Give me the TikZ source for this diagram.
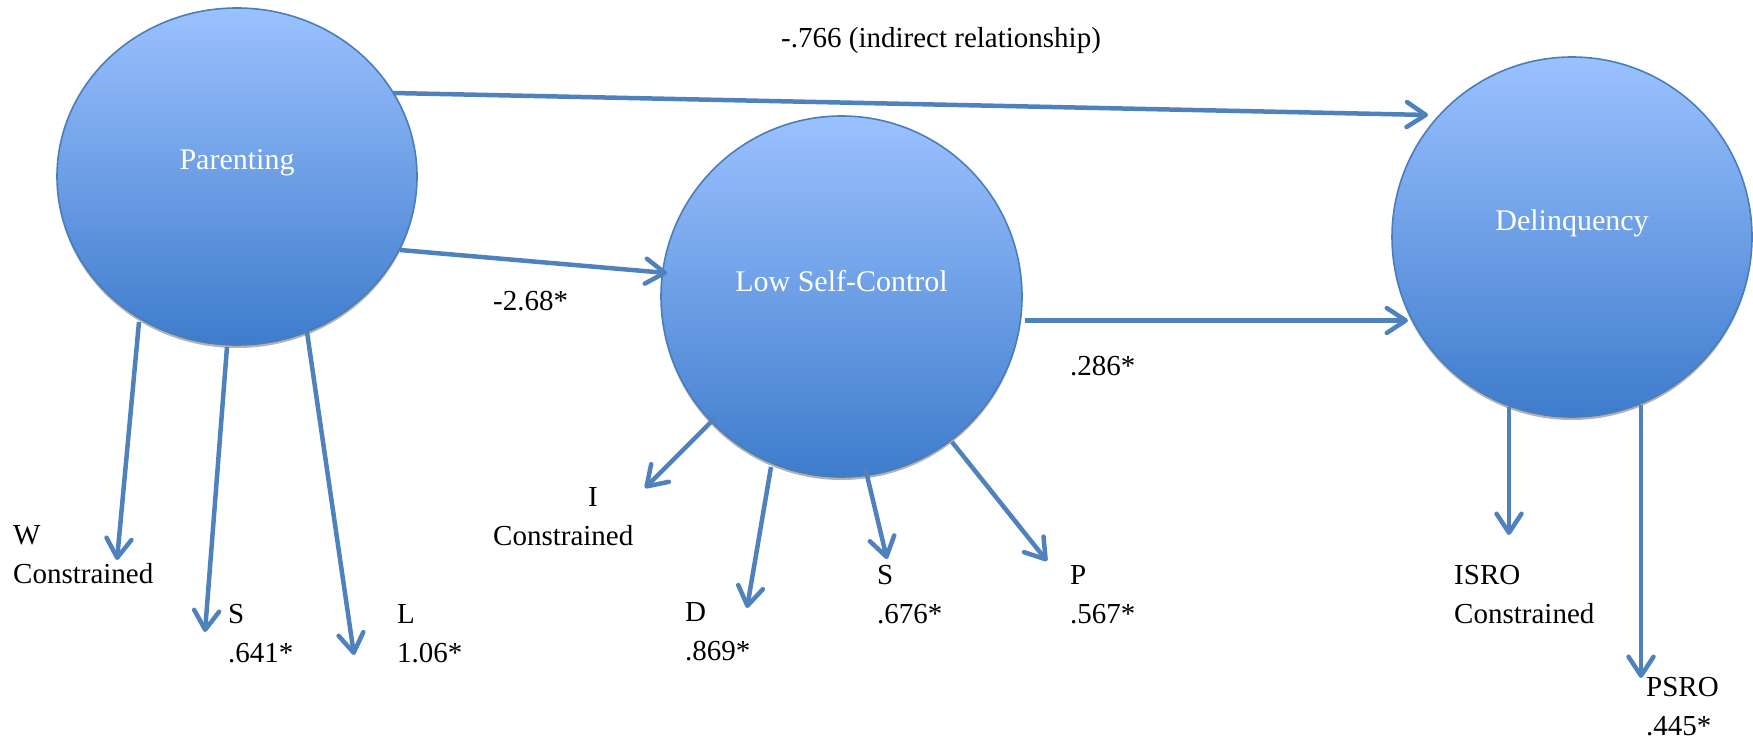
\documentclass[tikz,border=0pt]{standalone}
\usepackage{fontspec}
\setmainfont{Liberation Serif}
\usetikzlibrary{arrows.meta,calc,shapes.geometric,shadows}
\definecolor{arrowblue}{RGB}{79,129,189}
\definecolor{topblue}{RGB}{155,193,255}
\definecolor{botblue}{RGB}{62,124,204}
\definecolor{rimblue}{RGB}{74,126,187}
\begin{document}
\begin{tikzpicture}[x=1pt,y=-1pt,
  latent/.style={ellipse,inner sep=0pt,outer sep=0pt,draw=rimblue,line width=1.6pt,
     top color=topblue,bottom color=botblue,
     drop shadow={shadow xshift=0pt,shadow yshift=-3pt,opacity=0.3,fill=black}},
  latlabel/.style={text=white,font=\fontsize{30}{36}\selectfont},
  path/.style={draw=arrowblue,line width=4.5pt,
     -{Straight Barb[length=19pt,width=25pt,round]}},
  lab/.style={anchor=base west,align=left,inner sep=0pt,font=\fontsize{29}{38.5}\selectfont}]
\useasboundingbox (0,0) rectangle (1753,741);

% latent variables
\node[latent,minimum width=360pt,minimum height=337pt,
  label={[latlabel,yshift=14pt]center:Parenting}] (P) at (237,176.5) {};
\node[latent,minimum width=361pt,minimum height=361pt,
  label={[latlabel,yshift=15.5pt]center:Low Self-Control}] (L) at (841.5,296.5) {};
\node[latent,minimum width=360pt,minimum height=360pt,
  label={[latlabel,yshift=14pt]center:Delinquency}] (D) at (1572,237) {};

% structural paths
\draw[path] ($(P.center)+(156,-83.5)$) -- ($(D.center)+(-144,-122)$);
\draw[path] ($(P.center)+(163,73.5)$) -- ($(L.center)+(-174.5,-23.5)$);
\draw[path] ($(L.center)+(183.5,24)$) -- ($(D.center)+(-164,83.5)$);

% indicator ends
\coordinate (tW) at (117,560);
\coordinate (tS1) at (205,632);
\coordinate (tL) at (354,655);
\coordinate (tI) at (645,488);
\coordinate (tD) at (747,608);
\coordinate (tS2) at (887,559);
\coordinate (tP) at (1047,561);
\coordinate (tISRO) at (1509,535);
\coordinate (tPSRO) at (1641,678);

\draw[path] ($(P.center)+(-98,145.5)$) -- (tW);
\draw[path] ($(P.center)+(-10,170.5)$) -- (tS1);
\draw[path] ($(P.center)+(70,155.5)$) -- (tL);
\draw[path] ($(L.center)+(-126.5,121.5)$) -- (tI);
\draw[path] ($(L.center)+(-70.5,170.5)$) -- (tD);
\draw[path] ($(L.center)+(23.5,170.5)$) -- (tS2);
\draw[path] ($(L.center)+(110.5,145.5)$) -- (tP);
\draw[path] ($(D.center)+(-63,170)$) -- (tISRO);
\draw[path] ($(D.center)+(69,168)$) -- (tPSRO);

% coefficients
\node[lab] (c1) at (781,48) {-.766 (indirect relationship)};
\node[lab] (c2) at (493,310) {-2.68*};
\node[lab] (c3) at (1070,375) {.286*};

% indicator labels (anchored at the baseline of the last line)
\node[lab] (lW) at (13,583) {W\\Constrained};
\node[lab] (lS1) at (228,662) {S\\.641*};
\node[lab] (lL) at (397,662) {L\\1.06*};
\node[lab] (lI) at (493,545) {\hspace*{95pt}I\\Constrained};
\node[lab] (lD) at (685,660) {D\\.869*};
\node[lab] (lS2) at (877,623) {S\\.676*};
\node[lab] (lP) at (1070,623) {P\\.567*};
\node[lab] (lISRO) at (1454,623) {ISRO\\Constrained};
\node[lab] (lPSRO) at (1646,735) {PSRO\\.445*};
\end{tikzpicture}
\end{document}
